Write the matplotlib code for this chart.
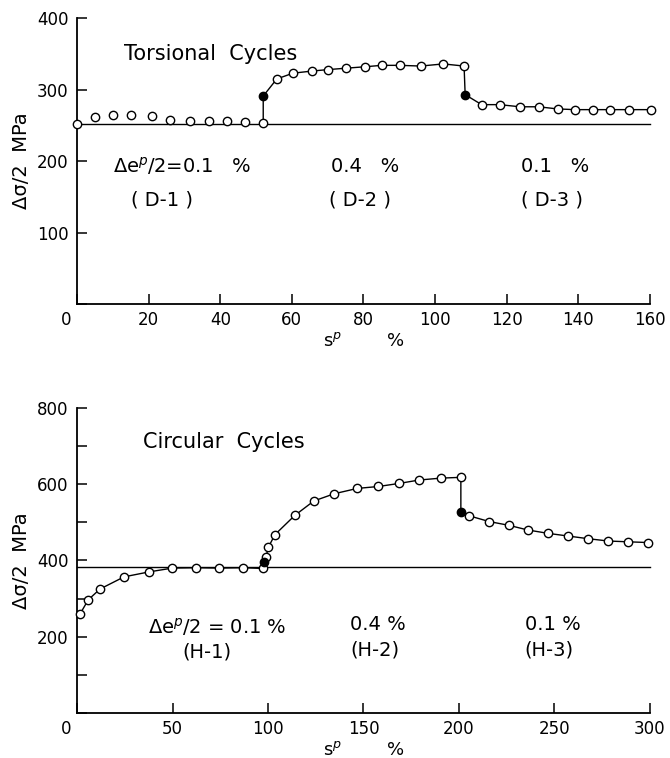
import matplotlib.pyplot as plt
import numpy as np

plt.rcParams['font.family'] = ['DejaVu Sans']

# Torsional cycles (top panel)
d1_s = [0, 5, 10, 15, 20.8, 26, 31.6, 36.9, 41.8, 47, 52]
d1_sig = [252, 262, 265, 264, 263, 257, 256, 256, 256, 255, 253]
d2_s = [55.8, 60.3, 65.6, 70, 75.1, 80.4, 85.1, 90.2, 96, 102.3, 108.1]
d2_sig = [315, 323, 326, 328, 330, 332, 334, 334, 333, 336, 333]
d3_s = [113, 118, 123.7, 128.9, 134.2, 139.1, 144, 148.9, 154.2, 160.2]
d3_sig = [279, 279, 276, 276, 273, 272, 272, 272, 272, 272]
d_fill_s = [52, 108.4]
d_fill_sig = [291, 293]
d_ref = 252

# Circular cycles (bottom panel)
h1_s = [1.6, 5.9, 12, 24.6, 37.7, 49.9, 62.3, 74.3, 87.1, 97.5]
h1_sig = [260, 297, 325, 357, 370, 380, 381, 380, 381, 379]
h2_s = [99, 100.2, 103.7, 114, 124, 134.7, 146.8, 157.8, 168.6, 179.2, 190.6, 201]
h2_sig = [410, 435, 468, 518, 556, 575, 589, 594, 602, 611, 616, 618]
h3_s = [205.4, 215.9, 226.3, 236, 246.8, 257.3, 267.8, 278.2, 288.3, 299.1]
h3_sig = [517, 502, 492, 480, 471, 464, 457, 451, 449, 447]
h_fill_s = [98, 201]
h_fill_sig = [396, 528]
h_ref = 383

fig = plt.figure(figsize=(6.7, 7.58), dpi=100)
ax1 = fig.add_axes([0.115, 0.599, 0.855, 0.377])
ax2 = fig.add_axes([0.115, 0.0594, 0.855, 0.4024])

mk = dict(marker='o', markersize=6, markerfacecolor='white',
          markeredgecolor='black', markeredgewidth=1.0, linestyle='none',
          clip_on=False, zorder=4)
fk = dict(marker='o', markersize=6, markerfacecolor='black',
          markeredgecolor='black', linestyle='none', clip_on=False, zorder=5)


def style_axes(ax, xmax, ymax, xstep, ystep, yminor=None):
    for sp in ['top', 'right']:
        ax.spines[sp].set_visible(False)
    for sp in ['left', 'bottom']:
        ax.spines[sp].set_linewidth(1.3)
    ax.set_xlim(0, xmax)
    ax.set_ylim(0, ymax)
    xt = np.arange(0, xmax + 1, xstep)
    yt = np.arange(0, ymax + 1, ystep)
    ax.set_xticks(xt)
    ax.set_xticklabels([''] + [str(int(v)) for v in xt[1:]])
    ax.set_yticks(yt)
    ax.set_yticklabels([''] + [str(int(v)) for v in yt[1:]])
    if yminor is not None:
        ax.set_yticks(yminor, minor=True)
    ax.tick_params(direction='in', length=7, width=1.1, labelsize=12)
    ax.tick_params(axis='y', pad=6)
    ax.tick_params(axis='x', pad=5)
    ax.tick_params(which='minor', direction='in', length=7, width=1.1)
    # shared origin label, set a bit left of the corner
    ax.annotate('0', xy=(0, 0), xycoords=('data', 'axes fraction'),
                xytext=(-8, -5), textcoords='offset points',
                ha='center', va='top', fontsize=12)
    ax.set_ylabel('Δσ/2  MPa', fontsize=14)
    ax.yaxis.set_label_coords(-0.08, 0.5)
    ax.set_xlabel('s$^{p}$        %', fontsize=13, labelpad=2)


# top panel
ax1.plot([0, 160], [d_ref, d_ref], color='black', lw=1.0, clip_on=False)
path_s = [d1_s[-1], d_fill_s[0]] + d2_s + [d_fill_s[1]] + d3_s
path_sig = [d1_sig[-1], d_fill_sig[0]] + d2_sig + [d_fill_sig[1]] + d3_sig
ax1.plot(path_s, path_sig, color='black', lw=1.0, clip_on=False)
ax1.plot(d1_s + d2_s + d3_s, d1_sig + d2_sig + d3_sig, **mk)
ax1.plot(d_fill_s, d_fill_sig, **fk)
style_axes(ax1, 160, 400, 20, 100)

ax1.text(13, 350, 'Torsional  Cycles', fontsize=15, va='center')
ax1.text(10, 193, 'Δe$^{p}$/2=0.1   %', fontsize=14, va='center')
ax1.text(15, 146, '( D-1 )', fontsize=14, va='center')
ax1.text(71, 193, '0.4   %', fontsize=14, va='center')
ax1.text(70.5, 146, '( D-2 )', fontsize=14, va='center')
ax1.text(124, 193, '0.1   %', fontsize=14, va='center')
ax1.text(124, 146, '( D-3 )', fontsize=14, va='center')

# bottom panel
ax2.plot([0, 300], [h_ref, h_ref], color='black', lw=1.0, clip_on=False)
path_s = h1_s + [h_fill_s[0]] + h2_s + [h_fill_s[1]] + h3_s
path_sig = h1_sig + [h_fill_sig[0]] + h2_sig + [h_fill_sig[1]] + h3_sig
ax2.plot(path_s, path_sig, color='black', lw=1.0, clip_on=False)
ax2.plot(h1_s + h2_s + h3_s, h1_sig + h2_sig + h3_sig, **mk)
ax2.plot(h_fill_s, h_fill_sig, **fk)
style_axes(ax2, 300, 800, 50, 200, yminor=[100, 300, 500, 700])

ax2.text(34.5, 711, 'Circular  Cycles', fontsize=15, va='center')
ax2.text(37, 226, 'Δe$^{p}$/2 = 0.1 %', fontsize=14, va='center')
ax2.text(55, 160, '(H-1)', fontsize=14, va='center')
ax2.text(143, 232, '0.4 %', fontsize=14, va='center')
ax2.text(143, 166, '(H-2)', fontsize=14, va='center')
ax2.text(234.5, 232, '0.1 %', fontsize=14, va='center')
ax2.text(234.5, 166, '(H-3)', fontsize=14, va='center')

fig.savefig('out.png', dpi=100)
